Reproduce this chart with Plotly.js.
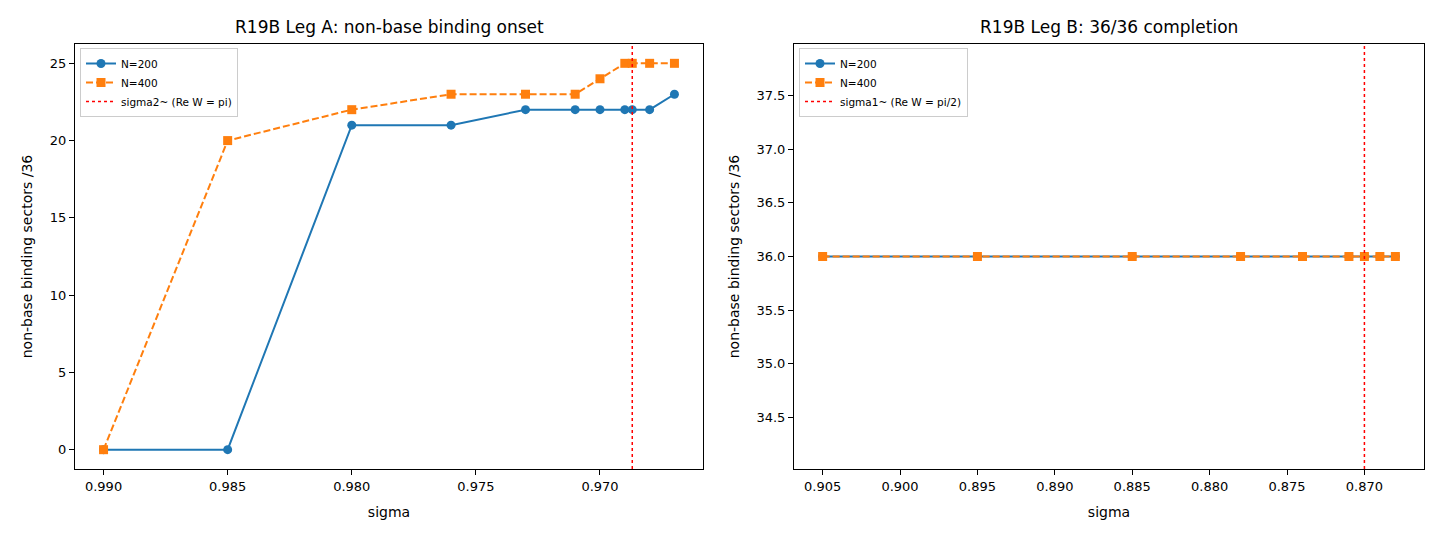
<!DOCTYPE html>
<html>
<head>
<meta charset="utf-8">
<script src="https://cdn.plot.ly/plotly-3.0.1.min.js"></script>
<style>html,body{margin:0;padding:0;background:#fff;}#chart{width:1440px;height:540px;}</style>
</head>
<body>
<div id="chart"></div>
<script>
// Leg A data
const sigmaA = [0.990, 0.985, 0.980, 0.976, 0.973, 0.971, 0.970, 0.969, 0.9687, 0.968, 0.967];
const legA_N200 = [0, 0, 21, 21, 22, 22, 22, 22, 22, 22, 23];
const legA_N400 = [0, 20, 22, 23, 23, 23, 24, 25, 25, 25, 25];
const sigma2Tilde = 0.9687;

// Leg B data
const sigmaB = [0.905, 0.895, 0.885, 0.878, 0.874, 0.871, 0.870, 0.869, 0.868];
const legB_N200 = [36, 36, 36, 36, 36, 36, 36, 36, 36];
const legB_N400 = [36, 36, 36, 36, 36, 36, 36, 36, 36];
const sigma1Tilde = 0.870;

const xTicksA = [0.990, 0.985, 0.980, 0.975, 0.970];
const xTicksB = [0.905, 0.900, 0.895, 0.890, 0.885, 0.880, 0.875, 0.870];
const yTicksA = [0, 5, 10, 15, 20, 25];
const yTicksB = [34.5, 35.0, 35.5, 36.0, 36.5, 37.0, 37.5];

const blue = '#1f77b4', orange = '#ff7f0e';
const font = 'DejaVu Sans, sans-serif';

const yRangeA = [-1.25, 26.25];
const yRangeB = [34.02, 37.98];

const traces = [
  {x: sigmaA, y: legA_N200, name: 'N=200', mode: 'lines+markers', xaxis: 'x', yaxis: 'y',
   line: {color: blue, width: 2}, marker: {symbol: 'circle', size: 9, color: blue}, legend: 'legend'},
  {x: sigmaA, y: legA_N400, name: 'N=400', mode: 'lines+markers', xaxis: 'x', yaxis: 'y',
   line: {color: orange, width: 2, dash: '7px,3px'}, marker: {symbol: 'square', size: 9, color: orange}, legend: 'legend'},
  {x: [sigma2Tilde, sigma2Tilde], y: yRangeA, name: 'sigma2~ (Re W = pi)', mode: 'lines', xaxis: 'x', yaxis: 'y',
   line: {color: 'red', width: 1.5, dash: 'dot'}, legend: 'legend', hoverinfo: 'skip'},
  {x: sigmaB, y: legB_N200, name: 'N=200', mode: 'lines+markers', xaxis: 'x2', yaxis: 'y2',
   line: {color: blue, width: 2}, marker: {symbol: 'circle', size: 9, color: blue}, legend: 'legend2'},
  {x: sigmaB, y: legB_N400, name: 'N=400', mode: 'lines+markers', xaxis: 'x2', yaxis: 'y2',
   line: {color: orange, width: 2, dash: '7px,3px'}, marker: {symbol: 'square', size: 9, color: orange}, legend: 'legend2'},
  {x: [sigma1Tilde, sigma1Tilde], y: yRangeB, name: 'sigma1~ (Re W = pi/2)', mode: 'lines', xaxis: 'x2', yaxis: 'y2',
   line: {color: 'red', width: 1.5, dash: 'dot'}, legend: 'legend2', hoverinfo: 'skip'}
];

const axisCommon = {
  showgrid: false, zeroline: false, showline: true, mirror: true, linecolor: '#000', linewidth: 1,
  ticks: 'outside', ticklen: 5, tickwidth: 1, tickcolor: '#000',
  tickfont: {family: font, size: 13, color: '#000'}
};

const W = 1440, H = 540;
const yDom = [1 - 469 / H, 1 - 44 / H];

const layout = {
  width: W, height: H,
  margin: {l: 0, r: 0, t: 0, b: 0},
  paper_bgcolor: '#fff', plot_bgcolor: '#fff',
  font: {family: font, color: '#000'},
  showlegend: true,
  xaxis: Object.assign({}, axisCommon, {
    domain: [75 / W, 703 / W], range: [0.99115, 0.96585], tickvals: xTicksA,
    ticktext: xTicksA.map(v => v.toFixed(3)),
    title: {text: 'sigma', font: {family: font, size: 14, color: '#000'}, standoff: 14}, anchor: 'y'
  }),
  yaxis: Object.assign({}, axisCommon, {
    domain: yDom, range: yRangeA, tickvals: yTicksA, ticktext: yTicksA.map(String),
    title: {text: 'non-base binding sectors /36', font: {family: font, size: 14, color: '#000'}, standoff: 13}, anchor: 'x'
  }),
  xaxis2: Object.assign({}, axisCommon, {
    domain: [794 / W, 1424 / W], range: [0.90685, 0.86615], tickvals: xTicksB,
    ticktext: xTicksB.map(v => v.toFixed(3)),
    title: {text: 'sigma', font: {family: font, size: 14, color: '#000'}, standoff: 14}, anchor: 'y2'
  }),
  yaxis2: Object.assign({}, axisCommon, {
    domain: yDom, range: yRangeB, tickvals: yTicksB, ticktext: yTicksB.map(v => v.toFixed(1)),
    title: {text: 'non-base binding sectors /36', font: {family: font, size: 14, color: '#000'}, standoff: 13}, anchor: 'x2'
  }),
  legend: {
    x: 80 / W, y: 1 - 48 / H, xanchor: 'left', yanchor: 'top',
    bgcolor: 'rgba(255,255,255,0.8)', bordercolor: '#cccccc', borderwidth: 1,
    font: {family: font, size: 10.5, color: '#000'}, tracegroupgap: 0, itemwidth: 30
  },
  legend2: {
    x: 799 / W, y: 1 - 48 / H, xanchor: 'left', yanchor: 'top',
    bgcolor: 'rgba(255,255,255,0.8)', bordercolor: '#cccccc', borderwidth: 1,
    font: {family: font, size: 10.5, color: '#000'}, tracegroupgap: 0, itemwidth: 30
  },
  annotations: [
    {text: 'R19B Leg A: non-base binding onset', xref: 'paper', yref: 'paper',
     x: (75 + 703) / 2 / W, y: 1 - 27 / H, xanchor: 'center', yanchor: 'middle', showarrow: false,
     font: {family: font, size: 17, color: '#000'}},
    {text: 'R19B Leg B: 36/36 completion', xref: 'paper', yref: 'paper',
     x: (794 + 1424) / 2 / W, y: 1 - 27 / H, xanchor: 'center', yanchor: 'middle', showarrow: false,
     font: {family: font, size: 17, color: '#000'}}
  ]
};

Plotly.newPlot('chart', traces, layout, {displayModeBar: false, staticPlot: true});
</script>
</body>
</html>
